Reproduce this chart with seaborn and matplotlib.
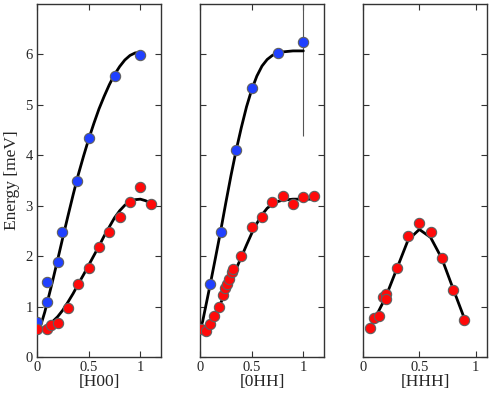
import numpy as np
import pandas as pd
import matplotlib
matplotlib.use("Agg")
import matplotlib.pyplot as plt
import seaborn as sns

sns.set_style("ticks")
plt.rcParams['font.family'] = ['Liberation Serif', 'DejaVu Serif']
plt.rcParams['mathtext.fontset'] = 'stix'

# ---------------- data ----------------
# Panel 1: [H00]
h00_blue_x = [0.0, 0.1, 0.1, 0.2, 0.24, 0.39, 0.5, 0.75, 1.0]
h00_blue_y = [0.69, 1.09, 1.48, 1.88, 2.47, 3.49, 4.34, 5.58, 5.98]
h00_red_x = [0.0, 0.1, 0.14, 0.2, 0.3, 0.4, 0.5, 0.6, 0.7, 0.8, 0.9, 1.0, 1.1]
h00_red_y = [0.55, 0.55, 0.63, 0.67, 0.97, 1.44, 1.76, 2.19, 2.47, 2.78, 3.08, 3.37, 3.04]
h00_bcurve_x = [0, 0.025, 0.05, 0.075, 0.1, 0.15, 0.2, 0.25, 0.3, 0.35, 0.4, 0.45, 0.5,
                0.55, 0.6, 0.65, 0.7, 0.75, 0.8, 0.85, 0.9, 0.95, 1.0]
h00_bcurve_y = [0.55, 0.6, 0.72, 0.89, 1.09, 1.5, 1.93, 2.37, 2.8, 3.22, 3.62, 3.98, 4.32,
                4.63, 4.92, 5.17, 5.4, 5.6, 5.76, 5.89, 5.98, 6.03, 6.04]
h00_rcurve_x = [0, 0.05, 0.1, 0.15, 0.2, 0.25, 0.3, 0.35, 0.4, 0.45, 0.5, 0.55, 0.6, 0.65,
                0.7, 0.75, 0.8, 0.85, 0.9, 0.95, 1.0, 1.05, 1.1]
h00_rcurve_y = [0.55, 0.57, 0.62, 0.7, 0.8, 0.93, 1.09, 1.26, 1.45, 1.63, 1.82, 2.01, 2.2,
                2.4, 2.58, 2.76, 2.9, 3.01, 3.08, 3.12, 3.13, 3.1, 3.05]

# Panel 2: [0HH]
ohh_blue_x = [0.1, 0.2, 0.35, 0.5, 0.75, 1.0]
ohh_blue_y = [1.44, 2.47, 4.1, 5.33, 6.02, 6.24]
ohh_blue_err = [0, 0, 0, 0, 0, 1.85]
ohh_red_x = [0.01, 0.06, 0.1, 0.14, 0.18, 0.22, 0.24, 0.26, 0.28, 0.31, 0.32, 0.4,
             0.5, 0.6, 0.7, 0.8, 0.9, 1.0, 1.1]
ohh_red_y = [0.55, 0.51, 0.65, 0.82, 1.0, 1.22, 1.37, 1.45, 1.55, 1.68, 1.75, 2.01,
             2.57, 2.77, 3.07, 3.2, 3.03, 3.18, 3.2]
ohh_bcurve_x = [0, 0.025, 0.05, 0.1, 0.15, 0.2, 0.25, 0.3, 0.35, 0.4, 0.45, 0.5, 0.55, 0.6,
                0.65, 0.7, 0.75, 0.8, 0.85, 0.9, 1.0]
ohh_bcurve_y = [0.55, 0.7, 0.95, 1.45, 1.97, 2.5, 3.06, 3.6, 4.1, 4.55, 4.96, 5.3, 5.57, 5.77,
                5.9, 5.98, 6.03, 6.05, 6.06, 6.07, 6.07]
ohh_rcurve_x = [0, 0.05, 0.1, 0.15, 0.2, 0.25, 0.3, 0.35, 0.4, 0.45, 0.5, 0.55, 0.6, 0.65,
                0.7, 0.75, 0.8, 0.9, 1.0, 1.1]
ohh_rcurve_y = [0.55, 0.6, 0.71, 0.87, 1.07, 1.29, 1.52, 1.75, 1.98, 2.22, 2.45, 2.65, 2.82,
                2.95, 3.03, 3.08, 3.11, 3.13, 3.13, 3.13]

# Panel 3: [HHH]
hhh_red_x = [0.06, 0.1, 0.14, 0.18, 0.2, 0.2, 0.3, 0.4, 0.5, 0.6, 0.7, 0.8, 0.9]
hhh_red_y = [0.57, 0.78, 0.81, 1.18, 1.24, 1.15, 1.76, 2.39, 2.65, 2.47, 1.97, 1.33, 0.74]
hhh_curve_x = [0.08, 0.2, 0.3, 0.4, 0.5, 0.6, 0.7, 0.8, 0.9]
hhh_curve_y = [0.65, 1.18, 1.75, 2.32, 2.53, 2.37, 1.95, 1.35, 0.76]

xlabels = ["[H00]", "[0HH]", "[HHH]"]
ylabel = "Energy [meV]"
xticks = [0, 0.5, 1]
xtick_labels = ["0", "0.5", "1"]
yticks = [0, 1, 2, 3, 4, 5, 6]

# ---------------- style ----------------
BLUE = "#2040ff"
RED = "#ff0a0a"
EDGE = "#606060"
MS = 55

fig = plt.figure(figsize=(4.91, 3.97), dpi=100)
W, H = 491, 397
lefts = [37, 200, 363]
width = 124
top, bottom = 4, 357
xlims = [(0, 1.2), (0, 1.2), (0, 1.1)]
axes = []
for i, l in enumerate(lefts):
    ax = fig.add_axes([l / W, 1 - bottom / H, width / W, (bottom - top) / H])
    axes.append(ax)


def curve(ax, x, y):
    df = pd.DataFrame({"x": x, "y": y})
    sns.lineplot(data=df, x="x", y="y", ax=ax, color="black", lw=2.0,
                 sort=False, estimator=None, zorder=2)


def pts(ax, x, y, c):
    df = pd.DataFrame({"x": x, "y": y})
    sns.scatterplot(data=df, x="x", y="y", ax=ax, color=c, s=MS,
                    edgecolor=EDGE, linewidth=0.8, zorder=3)


# panel 1
ax = axes[0]
curve(ax, h00_bcurve_x, h00_bcurve_y)
curve(ax, h00_rcurve_x, h00_rcurve_y)
pts(ax, h00_blue_x, h00_blue_y, BLUE)
pts(ax, h00_red_x, h00_red_y, RED)

# panel 2
ax = axes[1]
curve(ax, ohh_bcurve_x, ohh_bcurve_y)
curve(ax, ohh_rcurve_x, ohh_rcurve_y)
ax.errorbar(ohh_blue_x, ohh_blue_y, yerr=ohh_blue_err, fmt="none",
            ecolor="#555555", elinewidth=0.8, capsize=0, zorder=1)
pts(ax, ohh_blue_x, ohh_blue_y, BLUE)
pts(ax, ohh_red_x, ohh_red_y, RED)

# panel 3
ax = axes[2]
curve(ax, hhh_curve_x, hhh_curve_y)
pts(ax, hhh_red_x, hhh_red_y, RED)

for i, ax in enumerate(axes):
    ax.set_xlim(*xlims[i])
    ax.set_ylim(0, 7)
    ax.set_xticks(xticks)
    ax.set_xticklabels(xtick_labels)
    ax.set_yticks(yticks)
    ax.tick_params(direction="in", top=True, right=True, length=4, width=0.8,
                   labelsize=10.5, color="#333333", pad=3)
    for s in ax.spines.values():
        s.set_linewidth(1.0)
        s.set_color("#333333")
    ax.set_xlabel(xlabels[i], fontsize=12.5, labelpad=0)
    if i == 0:
        ax.set_ylabel(ylabel, fontsize=12.5, labelpad=4)
    else:
        ax.set_ylabel("")
        ax.set_yticklabels([])

fig.savefig("out.png", dpi=100)
